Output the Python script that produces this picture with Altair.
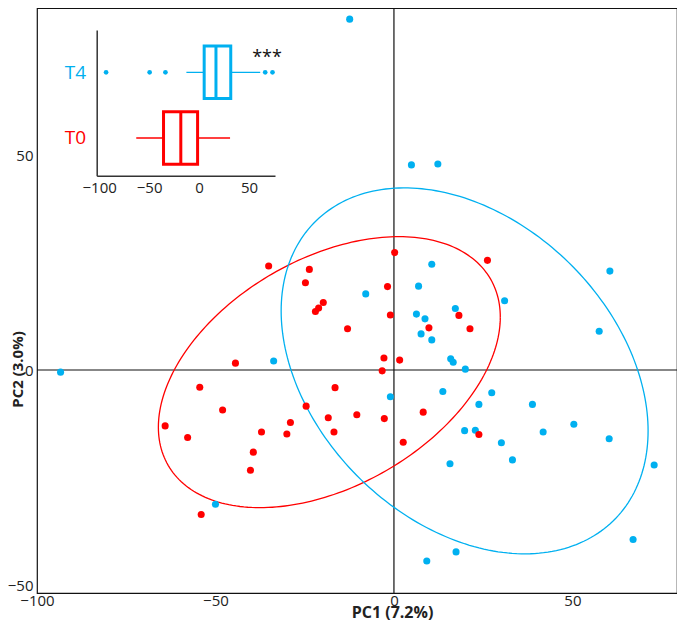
import altair as alt
import pandas as pd
import numpy as np

# ---------------- data ----------------
t0_pc1 = [-35.1, -23.7, -24.8, -19.8, -21.1, -22.0, 0.2, -1.8, -1.0, -13.0, -44.4, -2.8, 1.6,
          -3.3, -54.4, -16.5, -48.0, -24.6, -18.4, -10.4, -2.7, -64.1, -57.8, -29.0, -37.1,
          -30.0, -16.8, -39.4, -40.2, 2.6, -54.0, 26.2, 18.2, 9.8, 21.3, 8.2, 23.8]
t0_pc2 = [24.2, 23.4, 20.3, 15.7, 14.4, 13.6, 27.3, 19.4, 12.8, 9.6, 1.6, 2.8, 2.3,
          -0.2, -4.0, -4.1, -9.3, -8.4, -11.1, -10.4, -11.3, -13.0, -15.7, -12.2, -14.4,
          -14.9, -14.4, -19.1, -23.3, -16.8, -33.6, 25.5, 12.7, 9.8, 9.6, -9.8, -15.0]
t4_pc1 = [-12.4, 4.9, 12.3, 10.6, 60.5, 6.9, 31.0, 17.2, 6.3, 8.7, 57.5, 7.6, 10.6, 15.9,
          16.6, 20.0, -1.0, 13.7, 27.4, 23.8, 38.8, 19.8, 22.8, 41.8, 50.4, 60.3, 30.1, 33.2,
          15.7, 72.9, 67.0, 17.4, 9.2, -7.9, -33.7, -50.0, -93.4]
t4_pc2 = [81.6, 47.7, 47.9, 24.6, 23.0, 19.5, 16.1, 14.3, 13.0, 11.9, 9.0, 8.4, 7.0, 2.6,
          1.8, 0.2, -6.2, -5.0, -5.3, -8.0, -8.0, -14.1, -14.0, -14.4, -12.6, -16.0, -16.9, -20.9,
          -21.8, -22.1, -39.4, -42.3, -44.4, 17.7, 2.1, -31.2, -0.5]

groups = ["T0", "T4"]
group_colors = ["#FF0000", "#00B0F0"]

# confidence ellipses: centre and covariance-like shape matrix (data units)
ell_center = {"T0": [-18.1, -0.5], "T4": [19.8, -0.2]}
ell_shape = {"T0": [[2294.0, 613.0], [613.0, 993.0]],
             "T4": [[2642.0, -717.0], [-717.0, 1811.0]]}

# inset box plot of PC1 by group
box_groups = ["T4", "T0"]
box_row = [2, 1]
box_lo = [-12.7, -62.9]
box_q1 = [5.1, -35.6]
box_med = [16.9, -18.3]
box_q3 = [31.7, -1.5]
box_hi = [61.2, 31.0]
t4_outliers = [-93.1, -49.5, -33.7, 66.2, 73.5]
signif_text = "***"

# ---------------- tables ----------------
pts = pd.concat([
    pd.DataFrame({"PC1": t4_pc1, "PC2": t4_pc2, "group": "T4"}),
    pd.DataFrame({"PC1": t0_pc1, "PC2": t0_pc2, "group": "T0"}),
], ignore_index=True)

ell_rows = []
t = np.linspace(0, 2 * np.pi, 241)
for g in groups:
    L = np.linalg.cholesky(np.array(ell_shape[g]))
    xy = (L @ np.vstack([np.cos(t), np.sin(t)])).T + np.array(ell_center[g])
    for i, (ex, ey) in enumerate(xy):
        ell_rows.append({"group": g, "i": i, "PC1": ex, "PC2": ey})
ell = pd.DataFrame(ell_rows)

box = pd.DataFrame({"group": box_groups, "row": box_row, "lo": box_lo, "q1": box_q1,
                    "med": box_med, "q3": box_q3, "hi": box_hi})
box["ylo"] = box["row"] - 0.4
box["yhi"] = box["row"] + 0.4
outl = pd.DataFrame({"v": t4_outliers, "row": 2, "group": "T4"})
stars = pd.DataFrame({"v": [68.0], "row": [2.22], "txt": [signif_text]})

FONT = "Open Sans"
color = alt.Color("group:N", scale=alt.Scale(domain=groups, range=group_colors), legend=None)

# ---------------- main scales/axes ----------------
W, H = 640, 585
mx = alt.Scale(domain=[-100.0, 79.3], nice=False, zero=False)
my = alt.Scale(domain=[-51.86, 84.19], nice=False, zero=False)
ax_x = alt.Axis(orient="bottom", values=[-100, -50, 0, 50], domain=False, ticks=False, tickSize=0,
                grid=False, labelFlush=False, labelPadding=0, labelFontSize=15, labelFont=FONT,
                labelColor="#222",
                title="PC1 (7.2%)", titleFont=FONT, titleFontSize=16, titleFontWeight="bold",
                titleColor="#222", titleX=355, titleY=24, titleBaseline="alphabetic",
                titleAnchor="middle", titleAlign="center")
ax_y = alt.Axis(orient="left", values=[-50, 0, 50], domain=False, ticks=False, tickSize=0,
                grid=False, labelFlush=False, labelPadding=4, labelFontSize=15, labelFont=FONT,
                labelColor="#222",
                title="PC2 (3.0%)", titleFont=FONT, titleFontSize=15, titleFontWeight="bold",
                titleColor="#222", titleX=-15, titleY=361, titleAngle=270,
                titleBaseline="alphabetic", titleAlign="center")

def MX(f):
    return alt.X(f, type="quantitative", scale=mx, axis=ax_x)

def MY(f):
    return alt.Y(f, type="quantitative", scale=my, axis=ax_y)

zero = pd.DataFrame({"v": [0.0]})
vline = alt.Chart(zero).mark_rule(color="#111", strokeWidth=1.2).encode(x=MX("v"))
hline = alt.Chart(zero).mark_rule(color="#111", strokeWidth=1.2).encode(y=MY("v"))
ellipses = alt.Chart(ell).mark_line(strokeWidth=1.3).encode(
    x=MX("PC1"), y=MY("PC2"), color=color, detail="group:N", order="i:Q")
dots_t4 = alt.Chart(pts[pts.group == "T4"]).mark_circle(size=50, opacity=1).encode(
    x=MX("PC1"), y=MY("PC2"), color=color)
dots_t0 = alt.Chart(pts[pts.group == "T0"]).mark_circle(size=50, opacity=1).encode(
    x=MX("PC1"), y=MY("PC2"), color=color)
main = alt.layer(vline, hline, ellipses, dots_t4, dots_t0)

# ---------------- inset scales/axes ----------------
ix = alt.Scale(domain=[-102.5, 76.0], range=[59.7, 238.0], nice=False, zero=False)
iy = alt.Scale(domain=[0.426, 2.644], range=[167.7, 22.0], nice=False, zero=False)
iax_x = alt.Axis(orient="bottom", offset=-417.3, values=[-100, -50, 0, 50], ticks=False, tickSize=0,
                 grid=False, labelFlush=False, domainColor="#333", domainWidth=1.5, labelPadding=5,
                 labelFontSize=15, labelFont=FONT, labelColor="#222", title=None)
iax_y = alt.Axis(orient="left", offset=-59.7, values=[1, 2], ticks=False, tickSize=0, grid=False,
                 domainColor="#333", domainWidth=1.5, labelPadding=11, labelFontSize=19,
                 labelFont=FONT, labelExpr="datum.value == 2 ? 'T4' : 'T0'",
                 labelColor=alt.ExprRef(expr="datum.value == 2 ? '#00B0F0' : '#FF0000'"),
                 title=None)

def IX(f):
    return alt.X(f, type="quantitative", scale=ix, axis=iax_x)

def IY(f):
    return alt.Y(f, type="quantitative", scale=iy, axis=iax_y)

whisk = alt.Chart(box).mark_rule(strokeWidth=1.3).encode(x=IX("lo"), x2="hi", y=IY("row"), color=color)
rect = alt.Chart(box).mark_rect(fill="white", strokeWidth=3).encode(
    x=IX("q1"), x2="q3", y=IY("ylo"), y2="yhi",
    stroke=alt.Stroke("group:N", scale=alt.Scale(domain=groups, range=group_colors), legend=None))
med = alt.Chart(box).mark_rule(strokeWidth=3).encode(x=IX("med"), y=IY("ylo"), y2="yhi", color=color)
odots = alt.Chart(outl).mark_circle(size=22, opacity=1).encode(x=IX("v"), y=IY("row"), color=color)
stxt = alt.Chart(stars).mark_text(fontSize=18, font=FONT, color="#111").encode(
    x=IX("v"), y=IY("row"), text="txt:N")
inset = alt.layer(whisk, rect, med, odots, stxt)

chart = alt.layer(main, inset).resolve_scale(x="independent", y="independent").properties(
    width=W, height=H,
    padding={"left": 29, "top": 0, "right": 0, "bottom": 28},
    autosize=alt.AutoSizeParams(type="none"),
).configure_view(stroke="#111", strokeWidth=1.2).configure_axis(grid=False)

chart.save("out.html", embed_options={"renderer": "svg", "actions": False})
